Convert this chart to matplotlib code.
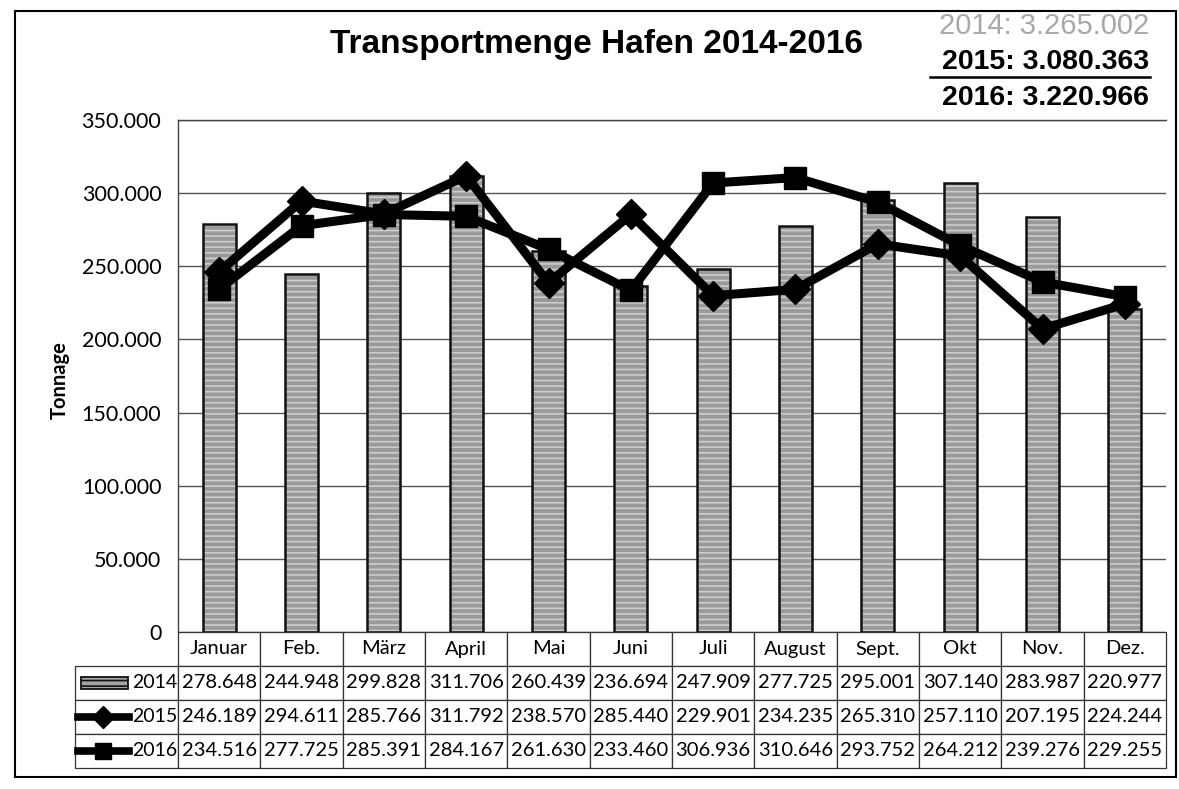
import matplotlib.pyplot as plt
from matplotlib.patches import Rectangle
from matplotlib.lines import Line2D

# Daten (Tonnen pro Monat)
months = ['Januar', 'Feb.', 'März', 'April', 'Mai', 'Juni', 'Juli', 'August',
          'Sept.', 'Okt', 'Nov.', 'Dez.']
years = ['2014', '2015', '2016']
t2014 = [278648, 244948, 299828, 311706, 260439, 236694, 247909, 277725, 295001, 307140, 283987, 220977]
t2015 = [246189, 294611, 285766, 311792, 238570, 285440, 229901, 234235, 265310, 257110, 207195, 224244]
t2016 = [234516, 277725, 285391, 284167, 261630, 233460, 306936, 310646, 293752, 264212, 239276, 229255]
y_ticks = [0, 50000, 100000, 150000, 200000, 250000, 300000, 350000]

W, H = 1179, 789


def de(v):
    # Tausenderpunkt wie in der Vorlage
    return f"{v:,}".replace(',', '.')


def fx(x):
    return x / W


def fy(y):
    return 1 - y / H


plt.rcParams['font.family'] = ['Lato', 'DejaVu Sans']
plt.rcParams['hatch.linewidth'] = 1.2

fig = plt.figure(figsize=(W / 100, H / 100), dpi=100)
ax = fig.add_axes([fx(178), fy(632), (1166 - 178) / W, (632 - 120) / H])

x = list(range(len(months)))
# Balken 2014: graues Raster + schwarzer Rand
ax.bar(x, t2014, width=0.4, color='#9a9a9a', edgecolor='#cdcdcd', hatch='---', lw=0, zorder=2)
ax.bar(x, t2014, width=0.4, fill=False, edgecolor='#111111', lw=1.8, zorder=3)

ax.plot(x, t2015, color='black', lw=6.5, marker='D', ms=15, zorder=5)
ax.plot(x, t2016, color='black', lw=6.5, marker='s', ms=16, zorder=4)

ax.set_xlim(-0.5, 11.5)
ax.set_ylim(0, 350000)
ax.set_yticks(y_ticks)
ax.set_yticklabels([de(v) for v in y_ticks], fontsize=15.5)
ax.tick_params(axis='y', length=0, pad=12)
ax.set_xticks([])
ax.yaxis.grid(True, color='#555555', lw=1.0, zorder=0)
ax.set_axisbelow(True)
for s in ['right', 'bottom']:
    ax.spines[s].set_visible(False)
for s in ['left', 'top']:
    ax.spines[s].set_color('#444444')
    ax.spines[s].set_linewidth(1.0)

fig.text(fx(60), fy(380), 'Tonnage', rotation=90, ha='center', va='center',
         fontsize=14.5, fontweight='bold')

# Datentabelle unter dem Diagramm
cell_text = [[''] + [de(v) for v in vals] for vals in (t2014, t2015, t2016)]
col_w = [103] + [988 / 12] * 12
tbl = ax.table(cellText=cell_text, colLabels=[''] + months, colWidths=col_w,
               cellLoc='center', colLoc='center',
               bbox=[(75 - 178) / 988, -(768 - 632) / 512, (1166 - 75) / 988, (768 - 632) / 512])
tbl.auto_set_font_size(False)
tbl.set_fontsize(14.5)
for (r, c), cell in tbl.get_celld().items():
    cell.set_edgecolor('#333333')
    cell.set_linewidth(0.9)
tbl[0, 0].set_visible(False)

# Legende in der Tabelle
row_y = [683, 717, 751]
for yy, lab in zip(row_y, years):
    fig.text(fx(177), fy(yy), lab, ha='right', va='center', fontsize=14)
fig.add_artist(Rectangle((fx(81), fy(row_y[0]) - 6 / H), 47 / W, 12 / H,
                         transform=fig.transFigure, facecolor='#a5a5a5',
                         edgecolor='#111111', lw=1.3, hatch='---'))
fig.add_artist(Line2D([fx(78), fx(103), fx(129)], [fy(row_y[1])] * 3, color='black', lw=5.5,
                      marker='D', ms=11, markevery=[1], transform=fig.transFigure))
fig.add_artist(Line2D([fx(78), fx(103), fx(129)], [fy(row_y[2])] * 3, color='black', lw=5.5,
                      marker='s', ms=12, markevery=[1], transform=fig.transFigure))

# Titel und Summen
fig.text(fx(596), fy(45), 'Transportmenge Hafen 2014-2016', ha='center', va='center',
         fontsize=24, fontweight='bold', family='Liberation Sans')
totals = [sum(t2014), sum(t2015), sum(t2016)]
fig.text(fx(1149), fy(26), f'2014: {de(totals[0])}', ha='right', va='center',
         fontsize=21, color='#a8a8a8', family='Liberation Sans')
fig.text(fx(1149), fy(62), f'2015: {de(totals[1])}', ha='right', va='center',
         fontsize=20.5, fontweight='bold', family='Liberation Sans')
fig.add_artist(Line2D([fx(930), fx(1150)], [fy(77)] * 2, color='black', lw=1.8))
fig.text(fx(1149), fy(98), f'2016: {de(totals[2])}', ha='right', va='center',
         fontsize=20.5, fontweight='bold', family='Liberation Sans')

# Rahmen
fig.add_artist(Rectangle((fx(15), fy(777)), (1176 - 15) / W, (777 - 11) / H,
                         transform=fig.transFigure, fill=False, edgecolor='black', lw=1.5))

fig.savefig('out.png', dpi=100)
